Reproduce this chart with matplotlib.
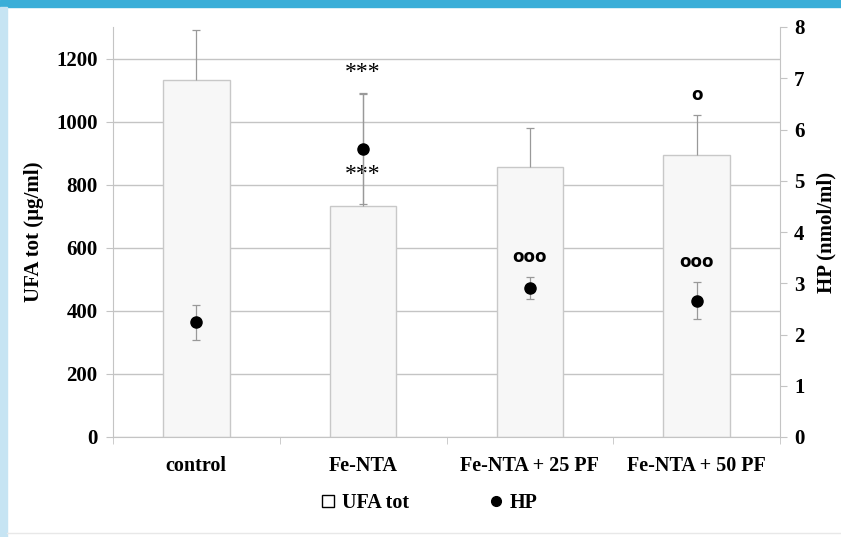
import matplotlib
matplotlib.use("Agg")
import matplotlib.pyplot as plt
from matplotlib.patches import Rectangle, Patch
from matplotlib.lines import Line2D

# ── DATA ───────────────────────────────────────────────────
groups   = ["control", "Fe-NTA", "Fe-NTA + 25 PF", "Fe-NTA + 50 PF"]
ufa      = [1133, 733, 857, 895]
ufa_err  = [156, 359, 124, 127]
hp       = [2.24, 5.62, 2.91, 2.66]
hp_err   = [0.34, 1.07, 0.21, 0.36]

# significance marks: (group index, HP-axis height, text)
marks_txt = ["***", "***", "ooo", "ooo", "o"]
marks_grp = [1, 1, 2, 3, 3]
marks_y   = [7.12, 5.13, 3.51, 3.42, 6.67]

# ── STYLE ──────────────────────────────────────────────────
GRID = "#c4c4c4"
BAR  = "#f7f7f7"
EDGE = "#c8c8c8"
FONT = "Liberation Serif"
FS   = 15

plt.rcParams.update({
    "font.family": FONT,
    "font.weight": "bold",
    "axes.edgecolor": GRID,
})

fig = plt.figure(figsize=(8.41, 5.37), dpi=100)

# frame decorations (blue top bar, light blue left strip)
fig.patches.append(Rectangle((0, 1 - 7/537), 1, 7/537, transform=fig.transFigure,
                             color="#3aaed8", zorder=0))
fig.patches.append(Rectangle((0, 0), 7/841, 1 - 7/537, transform=fig.transFigure,
                             color="#c6e4f3", zorder=0))
fig.lines.append(Line2D([7/841, 1], [4/537, 4/537], transform=fig.transFigure,
                        color="#e8e8e8", lw=1))

ax = fig.add_axes([113/841, 1 - 437/537, (780 - 113)/841, (437 - 27)/537])
x = list(range(len(groups)))

ax.bar(x, ufa, width=0.4, color=BAR, edgecolor=EDGE, linewidth=1, zorder=2)
_, caps, _ = ax.errorbar(x, ufa, yerr=[[0]*4, ufa_err], fmt="none", ecolor="#999999",
                         elinewidth=0.9, capsize=3, capthick=0.9, zorder=3)
caps[0].set_visible(False)

ax.set_xlim(-0.5, 3.5)
ax.set_ylim(0, 1300)
ax.set_yticks(range(0, 1201, 200))
ax.yaxis.grid(True, color=GRID, lw=1)
ax.set_axisbelow(True)
ax.set_xticks(x)
ax.set_xticklabels(groups, fontsize=14.5, fontweight="bold")
ax.set_xticks([-0.5, 0.5, 1.5, 2.5, 3.5], minor=True)
ax.tick_params(axis="x", which="major", length=0, pad=14)
ax.tick_params(axis="x", which="minor", length=5, color=GRID)
ax.tick_params(axis="y", length=5, color=GRID, labelsize=FS, pad=6)
for t in ax.get_yticklabels():
    t.set_fontweight("bold")
ax.spines["top"].set_visible(False)
ax.spines["right"].set_visible(False)
ax.set_ylabel("UFA tot (µg/ml)", fontsize=FS, fontweight="bold", labelpad=9)

ax2 = ax.twinx()
ax2.set_ylim(0, 8)
ax2.set_yticks(range(0, 9))
ax2.tick_params(axis="y", length=5, color=GRID, labelsize=FS, pad=5)
for t in ax2.get_yticklabels():
    t.set_fontweight("bold")
for s in ["top", "left", "bottom"]:
    ax2.spines[s].set_visible(False)
ax2.spines["right"].set_color(GRID)
ax2.errorbar(x, hp, yerr=hp_err, fmt="o", color="black", ms=8,
             ecolor="#999999", elinewidth=0.9, capsize=3, capthick=0.9, zorder=4)
ax2.set_ylabel("HP (nmol/ml)", fontsize=FS, fontweight="bold", labelpad=9)

for txt, g, yy in zip(marks_txt, marks_grp, marks_y):
    if txt.startswith("o"):
        ax2.text(g, yy, txt, ha="center", va="center", fontsize=12,
                 family="DejaVu Sans", fontweight="bold")
    else:
        ax2.text(g, yy, txt, ha="center", va="center", fontsize=17,
                 fontweight="normal")

handles = [Patch(facecolor="white", edgecolor="black", lw=1),
           Line2D([], [], marker="o", color="black", ls="none", ms=7)]
fig.legend(handles, ["UFA tot", "HP"], loc="center", bbox_to_anchor=(430/841, 1 - 503/537),
           ncol=2, frameon=False, handlelength=0.6, handleheight=0.6, handletextpad=0.4,
           columnspacing=4.0, prop={"family": FONT, "weight": "bold", "size": 14.5})

fig.savefig("out.png", dpi=100)
